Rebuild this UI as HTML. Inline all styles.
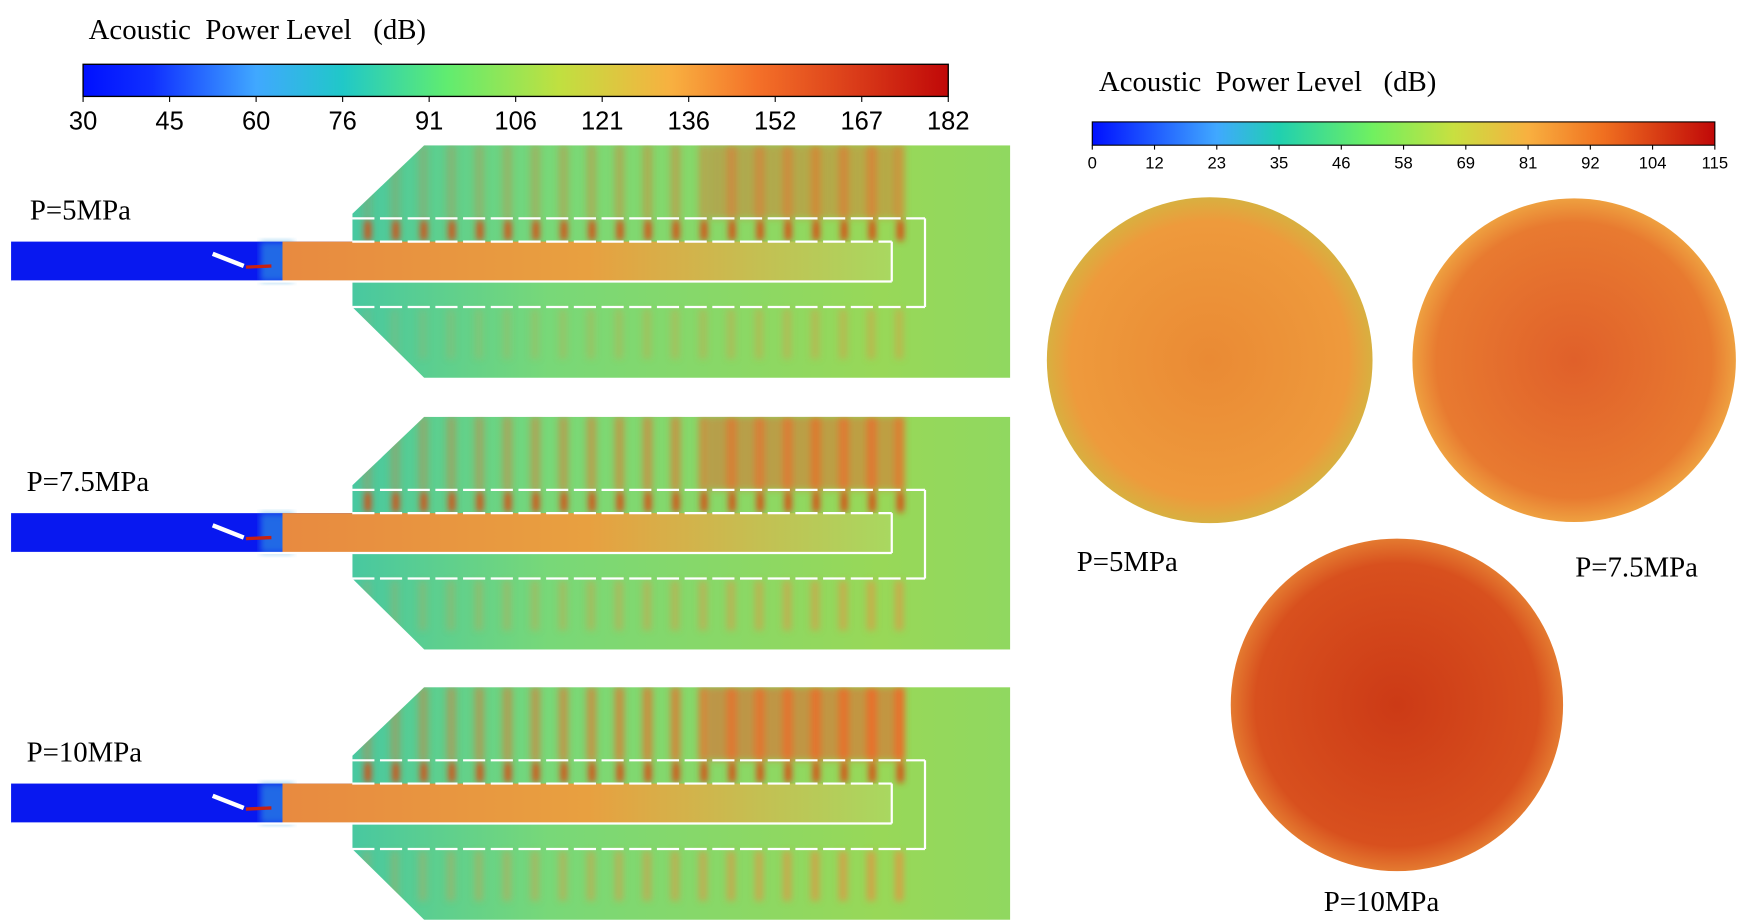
<!DOCTYPE html>
<html><head><meta charset="utf-8">
<style>
html,body{margin:0;padding:0;background:#fff;}
svg{display:block;}
text{font-family:"Liberation Serif",serif;white-space:pre;}
.tk{font-family:"Liberation Sans",sans-serif;}
</style></head>
<body>
<svg id="fig" width="1737" height="921" viewBox="0 0 1568 831" preserveAspectRatio="none" xmlns="http://www.w3.org/2000/svg">
<defs>
<linearGradient id="jet" x1="0" x2="1" y1="0" y2="0">
<stop offset="0" stop-color="#0010ff"/><stop offset="0.08" stop-color="#1030ff"/>
<stop offset="0.2" stop-color="#40a8ff"/><stop offset="0.3" stop-color="#20c8c8"/>
<stop offset="0.42" stop-color="#60ec70"/><stop offset="0.55" stop-color="#c0e040"/>
<stop offset="0.68" stop-color="#f8b040"/><stop offset="0.78" stop-color="#f47028"/>
<stop offset="0.9" stop-color="#d83818"/><stop offset="1" stop-color="#c00808"/>
</linearGradient>
<linearGradient id="jet2" x1="0" x2="1" y1="0" y2="0">
<stop offset="0" stop-color="#0010ff"/><stop offset="0.2" stop-color="#40a8ff"/>
<stop offset="0.3" stop-color="#20d0b0"/><stop offset="0.45" stop-color="#70f060"/>
<stop offset="0.58" stop-color="#c8e040"/><stop offset="0.7" stop-color="#f8b040"/>
<stop offset="0.82" stop-color="#f07020"/><stop offset="1" stop-color="#c00808"/>
</linearGradient>
<linearGradient id="pipe" x1="0" x2="1">
<stop offset="0" stop-color="#e88a40"/><stop offset="0.5" stop-color="#e8a040"/><stop offset="1" stop-color="#a8d860"/>
</linearGradient>
<linearGradient id="base" x1="0" x2="1">
<stop offset="0" stop-color="#48c8a0"/><stop offset="0.3" stop-color="#78d878"/><stop offset="0.8" stop-color="#98d858"/><stop offset="1" stop-color="#90d860"/>
</linearGradient>
<clipPath id="shape"><polygon points="383,131 912,131 912,341 383,341 318,277 318,193"/></clipPath>
<filter id="blur" x="-10%" y="-10%" width="120%" height="120%"><feGaussianBlur stdDeviation="3"/></filter>
<radialGradient id="c1g"><stop offset="0" stop-color="#ea8a34"/><stop offset="0.85" stop-color="#ee9a3c"/><stop offset="1" stop-color="#d8b040"/></radialGradient>
<radialGradient id="c2g"><stop offset="0" stop-color="#e0602a"/><stop offset="0.85" stop-color="#e87a30"/><stop offset="1" stop-color="#eea040"/></radialGradient>
<radialGradient id="c3g"><stop offset="0" stop-color="#cc3a16"/><stop offset="0.85" stop-color="#d8501e"/><stop offset="1" stop-color="#e47a30"/></radialGradient>
</defs>
<g id="root"></g>
</svg>
<script>
const leftTicks = ["30","45","60","76","91","106","121","136","152","167","182"];
const rightTicks = ["0","12","23","35","46","58","69","81","92","104","115"];
const pressures = ["P=5MPa","P=7.5MPa","P=10MPa"];
const stripeIntensity = [0.45,0.65,0.8];
const circleLabels = ["P=5MPa","P=7.5MPa","P=10MPa"];
const NS="http://www.w3.org/2000/svg";
const root=document.getElementById('root');
function mk(tag,attrs,parent){const e=document.createElementNS(NS,tag);for(const k in attrs)e.setAttribute(k,attrs[k]);(parent||root).appendChild(e);return e;}
function txt(s,x,y,size,cls,parent){const t=mk('text',{x:x,y:y,'font-size':size},parent);if(cls)t.setAttribute('class',cls);t.textContent=s;return t;}

let g=mk('g',{});


let t=txt("Acoustic  Power Level   (dB)",80,35,26,null,g);


mk('rect',{x:75,y:58,width:781,height:29,fill:'url(#jet)',stroke:'#000','stroke-width':1.2},g);
function xL(i){return 75+i*781/(leftTicks.length-1);}
leftTicks.forEach((s,i)=>{mk('line',{x1:xL(i),x2:xL(i),y1:87,y2:92,stroke:'#000'},g);
 const e=txt(s,xL(i),117,23,'tk',g);e.setAttribute('text-anchor','middle');
 
 });

g=mk('g',{});


t=txt("Acoustic  Power Level   (dB)",992,82,26,null,g);


mk('rect',{x:986,y:110,width:562,height:21,fill:'url(#jet2)',stroke:'#000','stroke-width':1},g);
function xR(i){return 986+i*562/(rightTicks.length-1);}
rightTicks.forEach((s,i)=>{mk('line',{x1:xR(i),x2:xR(i),y1:131,y2:135,stroke:'#000'},g);
 const e=txt(s,xR(i),152,15,'tk',g);e.setAttribute('text-anchor','middle');
 
 });

pressures.forEach((p,k)=>{
 const o=[0,245,489][k];
 const pg=mk('g',{transform:'translate(0,'+o+')'});
 
 
 const cg=mk('g',{'clip-path':'url(#shape)'},pg);
 mk('rect',{x:318,y:131,width:594,height:210,fill:'url(#base)'},cg);
 const sg=mk('g',{filter:'url(#blur)'},cg);
 mk('rect',{x:640,y:131,width:170,height:66,fill:'#e06a30',opacity:0.5*stripeIntensity[k]+0.2},sg);
 for(let i=0;i<20;i++){const x=330+i*25.3;const a=stripeIntensity[k]*(0.4+i/22);
  mk('rect',{x:x-3,y:131,width:9,height:66,fill:'#e8702c',opacity:Math.min(a,1)},sg);
  mk('rect',{x:x-3,y:279,width:8,height:45,fill:'#e89040',opacity:Math.min(a*0.7,1)},sg);
  mk('rect',{x:x-1,y:199,width:6,height:18,fill:'#d84818'},sg);}
 mk('rect',{x:10,y:218,width:308,height:36,fill:'#0818f0'},pg);
 mk('rect',{x:235,y:218,width:30,height:36,fill:'#30a0e0',opacity:0.6,filter:'url(#blur)'},pg);
 mk('rect',{x:255,y:218,width:550,height:36,fill:'url(#pipe)'},pg);
 mk('line',{x1:192,y1:229,x2:220,y2:240,stroke:'#fff','stroke-width':4},pg);
 mk('line',{x1:222,y1:241,x2:245,y2:240,stroke:'#c82010','stroke-width':3},pg);
 const W={stroke:'#fff','stroke-width':2,fill:'none'};
 mk('line',Object.assign({x1:318,y1:197,x2:835,y2:197,'stroke-dasharray':'20,5'},W),pg);
 mk('line',Object.assign({x1:318,y1:218,x2:805,y2:218,'stroke-dasharray':'20,5'},W),pg);
 mk('line',Object.assign({x1:318,y1:277,x2:835,y2:277,'stroke-dasharray':'20,5'},W),pg);
 mk('line',Object.assign({x1:10,y1:254,x2:805,y2:254},W),pg);
 mk('line',Object.assign({x1:805,y1:218,x2:805,y2:254},W),pg);
 mk('line',Object.assign({x1:835,y1:197,x2:835,y2:277},W),pg);
 const lt=txt(p,[27,24,24][k],198,26,null,pg);
 
 
});

const circ=[[1092,325,147,'c1g',972,515],[1421,325,146,'c2g',1422,520],[1261,636,150,'c3g',1195,822]];
circ.forEach((c,i)=>{
 const cg=mk('g',{});
 
 
 mk('circle',{cx:c[0],cy:c[1],r:c[2],fill:'url(#'+c[3]+')'},cg);
 const l=txt(circleLabels[i],c[4],c[5],26,null,cg);
 
 
});
</script>
</body></html>
